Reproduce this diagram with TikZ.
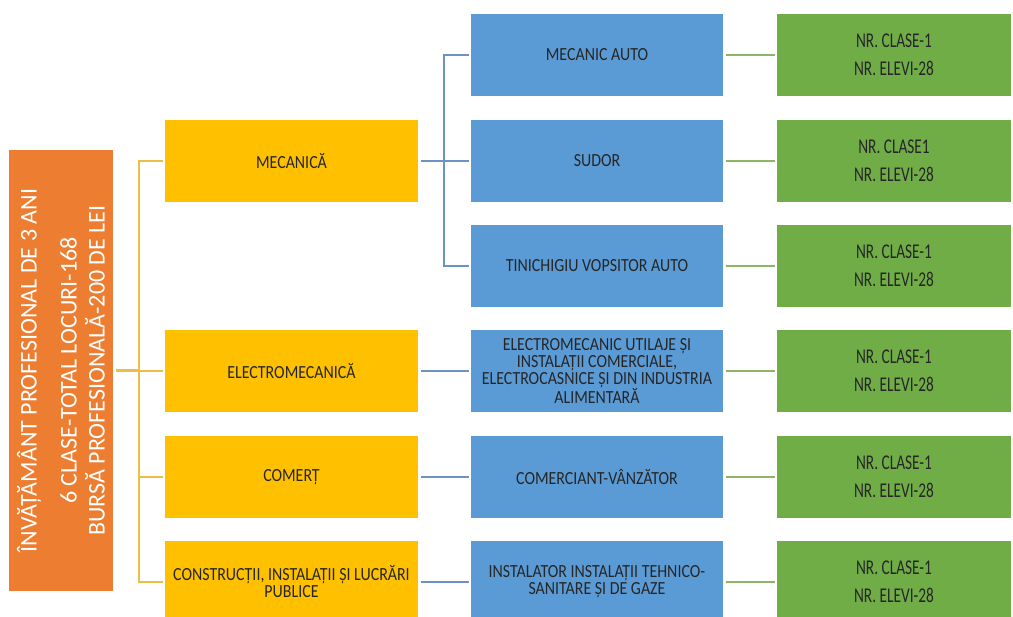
\documentclass[tikz,border=0pt]{standalone}
\usepackage{fontspec}
\setmainfont{Carlito}
\newfontfamily\boxfont{Carlito}[FakeStretch=0.86]
\newfontfamily\greenfont{Carlito}[FakeStretch=0.73]
\definecolor{orng}{HTML}{ED7D31}
\definecolor{yel}{HTML}{FFC000}
\definecolor{blu}{HTML}{5B9BD5}
\definecolor{grn}{HTML}{70AD47}
\definecolor{ylink}{HTML}{EDBE45}
\definecolor{blink}{HTML}{6B93C3}
\definecolor{glink}{HTML}{8DB566}
\definecolor{txt}{HTML}{262626}
\begin{document}
\begin{tikzpicture}[x=1pt,y=-1pt,
  box/.style={rectangle, draw=none, minimum height=82pt, inner sep=2pt, outer sep=2.5pt, align=center, text=txt},
  ybox/.style={box, fill=yel, minimum width=253pt, font=\boxfont\fontsize{18.5}{17}\selectfont},
  bbox/.style={box, fill=blu, minimum width=252pt, font=\boxfont\fontsize{18.5}{17}\selectfont},
  gbox/.style={box, fill=grn, minimum width=234pt, font=\greenfont\fontsize{21}{27.5}\selectfont},
  obox/.style={rectangle, fill=orng, minimum width=441pt, minimum height=104pt, inner sep=2pt, outer sep=2.5pt, align=center, text=white, font=\fontsize{24}{28}\selectfont, rotate=90},
  yl/.style={draw=ylink, line width=2.2pt},
  bl/.style={draw=blink, line width=2.2pt},
  gl/.style={draw=glink, line width=2.2pt}
]
\useasboundingbox (0,0) rectangle (1013,617);
\fill[white] (0,0) rectangle (1013,617);
\clip (0,0) rectangle (1013,617);

% root
\node[obox] (org) at (61,370.5) {ÎNVĂȚĂMÂNT PROFESIONAL DE 3 ANI\\[12pt]6 CLASE-TOTAL LOCURI-168\\BURSĂ PROFESIONALĂ-200 DE LEI};

% domains
\node[ybox] (y1) at (291.5,161) {MECANICĂ};
\node[ybox] (y2) at (291.5,371) {ELECTROMECANICĂ};
\node[ybox] (y3) at (291.5,477) {COMERȚ};
\node[ybox] (y4) at (291.5,582) {CONSTRUCȚII, INSTALAȚII ȘI LUCRĂRI\\PUBLICE};

% qualifications
\node[bbox] (b1) at (597,55) {MECANIC AUTO};
\node[bbox] (b2) at (597,161) {SUDOR};
\node[bbox] (b3) at (597,266) {TINICHIGIU VOPSITOR AUTO};
\node[bbox] (b4) at (597,371) {ELECTROMECANIC UTILAJE ȘI\\INSTALAȚII COMERCIALE,\\ELECTROCASNICE ȘI DIN INDUSTRIA\\ALIMENTARĂ};
\node[bbox] (b5) at (597,477) {COMERCIANT-VÂNZĂTOR};
\node[bbox] (b6) at (597,582) {INSTALATOR INSTALAȚII TEHNICO-\\SANITARE ȘI DE GAZE};

% numbers
\node[gbox] (g1) at (894,55) {NR. CLASE-1\\NR. ELEVI-28};
\node[gbox] (g2) at (894,161) {NR. CLASE1\\NR. ELEVI-28};
\node[gbox] (g3) at (894,266) {NR. CLASE-1\\NR. ELEVI-28};
\node[gbox] (g4) at (894,371) {NR. CLASE-1\\NR. ELEVI-28};
\node[gbox] (g5) at (894,477) {NR. CLASE-1\\NR. ELEVI-28};
\node[gbox] (g6) at (894,582) {NR. CLASE-1\\NR. ELEVI-28};

% root -> domains
\coordinate (ob) at (139,0);
\draw[yl] (org.south) -- (org.south -| ob);
\draw[yl] (y1.west) -- (y1.west -| ob) -- (y4.west -| ob) -- (y4.west);
\draw[yl] (y2.west -| ob) -- (y2.west);
\draw[yl] (y3.west -| ob) -- (y3.west);

% domains -> qualifications
\coordinate (mb) at (444,0);
\draw[bl] (y1.east) -- (y1.east -| mb);
\draw[bl] (b1.west) -- (b1.west -| mb) -- (b3.west -| mb) -- (b3.west);
\draw[bl] (b2.west -| mb) -- (b2.west);
\draw[bl] (y2.east) -- (b4.west);
\draw[bl] (y3.east) -- (b5.west);
\draw[bl] (y4.east) -- (b6.west);

% qualifications -> numbers
\foreach \i in {1,...,6} {
  \draw[gl] (b\i.east) -- (g\i.west);
}
\end{tikzpicture}
\end{document}
